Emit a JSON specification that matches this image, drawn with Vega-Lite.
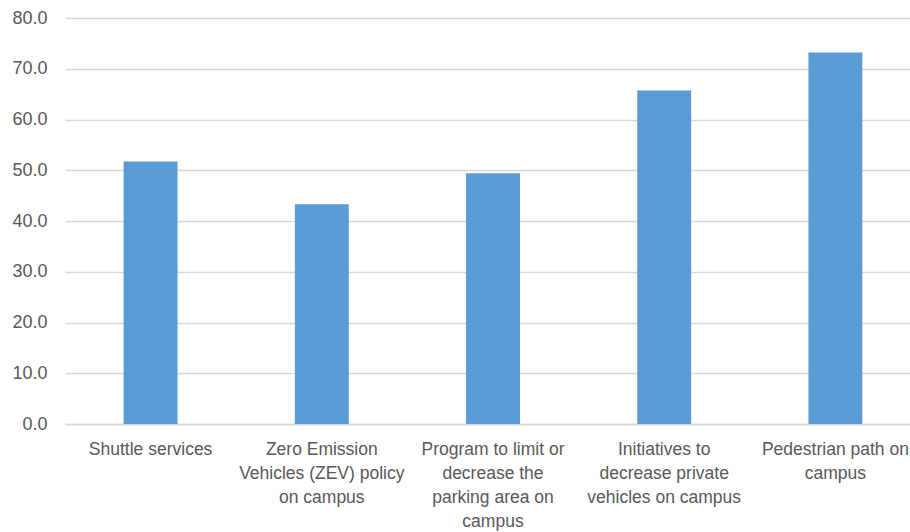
{
  "$schema": "https://vega.github.io/schema/vega-lite/v6.json",
  "autosize": "none",
  "padding": {"left": 65, "top": 18, "right": 0, "bottom": 108},
  "width": 856,
  "height": 406,
  "background": "white",
  "data": {
    "values": [
      {"measure": "Shuttle services", "score": 51.7},
      {"measure": "Zero Emission\nVehicles (ZEV)  policy\non campus", "score": 43.3},
      {"measure": "Program to limit or\ndecrease the\nparking area on\ncampus", "score": 49.4},
      {"measure": "Initiatives to\ndecrease  private\nvehicles on campus", "score": 65.7},
      {"measure": "Pedestrian path on\ncampus", "score": 73.2}
    ]
  },
  "mark": {"type": "bar", "color": "#5B9BD5"},
  "encoding": {
    "x": {
      "field": "measure",
      "type": "nominal",
      "sort": null,
      "title": null,
      "scale": {"paddingInner": 0.685, "paddingOuter": 0.3425},
      "axis": {
        "labelAngle": 0,
        "labelExpr": "split(datum.label, '\\n')",
        "labelFont": "Liberation Sans",
        "labelFontSize": 17.5,
        "labelColor": "#595959",
        "labelLineHeight": 24,
        "labelPadding": 16,
        "labelBaseline": "top",
        "labelLimit": 0,
        "domainColor": "#D9D9D9",
        "domainWidth": 1.5,
        "ticks": false,
        "grid": false
      }
    },
    "y": {
      "field": "score",
      "type": "quantitative",
      "title": null,
      "scale": {"domain": [0, 80], "nice": false},
      "axis": {
        "values": [0, 10, 20, 30, 40, 50, 60, 70, 80],
        "format": ".1f",
        "labelFont": "Liberation Sans",
        "labelFontSize": 18,
        "labelColor": "#595959",
        "labelPadding": 18,
        "ticks": false,
        "domain": false,
        "gridColor": "#D9D9D9",
        "gridWidth": 1.5
      }
    }
  },
  "config": {"view": {"stroke": null}}
}
